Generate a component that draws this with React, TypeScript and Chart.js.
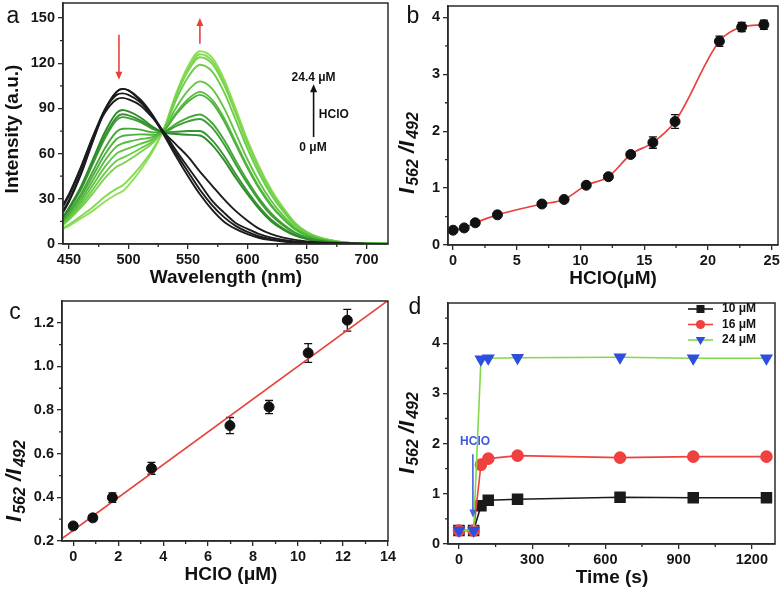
import React, { useEffect, useRef } from "react";
import { Chart, registerables } from "chart.js";
Chart.register(...registerables);

const FONT = "'Liberation Sans', Arial, sans-serif";
const AXIS = "#2b2b2b";
const CW = 784;
const CH = 590;

// ---------- Panel a : emission spectra ----------
const wavelengths = [445, 450, 460, 470, 480, 490, 495, 500, 510, 520, 530, 540, 550, 560, 570, 580, 590, 600, 610, 620, 630, 640, 650, 660, 680, 700, 720];
const blackSpectra = [
  [21, 28, 46, 68, 88, 101, 103, 102, 95, 85, 72, 58, 45, 33, 23, 15, 10, 6.5, 4, 2.6, 1.6, 1, 0.6, 0.4, 0.2, 0.1, 0],
  [22, 29, 47, 69, 89, 101, 103, 102, 96, 86, 73, 60, 48, 36, 26, 18, 12, 8, 5, 3.2, 2, 1.3, 0.8, 0.5, 0.2, 0.1, 0],
  [25, 32, 50, 71, 89, 99, 100, 99, 94, 85, 74, 62, 51, 40, 29, 21, 14, 10, 6.5, 4.2, 2.7, 1.7, 1.1, 0.7, 0.3, 0.1, 0],
  [26, 33, 51, 71, 87, 96, 97, 96, 92, 84, 74, 66, 58, 48, 39, 30, 22, 15.5, 10, 6.5, 4.2, 2.7, 1.7, 1.1, 0.4, 0.1, 0],
];
const greenSpectra = [
  [18, 24, 38, 56, 74, 87, 89, 88, 84, 78, 74, 73, 72.5, 72, 66, 56, 44, 33, 23, 15, 9.5, 5.5, 3.2, 1.8, 0.5, 0.15, 0.05],
  [17.6, 23.4, 36.9, 54.2, 71.5, 84.1, 86.1, 85.4, 82.1, 77.1, 74.2, 74.5, 75, 75, 69.1, 58.9, 46.5, 34.9, 24.5, 16.1, 10.3, 6, 3.5, 1.9, 0.5, 0.16, 0.06],
  [17.3, 22.9, 36.1, 53, 69.9, 82.2, 84.2, 83.6, 80.9, 76.5, 74.6, 78.3, 81.4, 83, 77.4, 66.6, 53, 40.1, 28.5, 19.1, 12.3, 7.2, 4.1, 2.3, 0.6, 0.2, 0.08],
  [16.1, 21.2, 33.1, 48.1, 63.3, 74.5, 76.5, 76.6, 75.9, 74.1, 74.8, 79.8, 83.9, 86, 80.5, 69.5, 55.5, 42, 30, 20.3, 13.1, 7.6, 4.4, 2.5, 0.7, 0.21, 0.09],
  [15.4, 20.1, 31.3, 45.1, 59.2, 69.7, 71.7, 72.3, 72.8, 72.5, 75.4, 86, 94.4, 99, 94, 82, 66.2, 50.4, 36.5, 25.1, 16.5, 9.6, 5.5, 3.1, 0.8, 0.27, 0.12],
  [14.7, 19.1, 29.4, 42, 55.1, 64.8, 66.8, 67.9, 69.6, 71, 75.6, 87, 96.1, 101, 96, 84, 67.8, 51.6, 37.5, 25.9, 17, 9.9, 5.7, 3.2, 0.9, 0.28, 0.13],
  [14, 18, 27.5, 39, 51, 60, 62, 63.5, 66.5, 69.5, 75.9, 90.4, 101.8, 108, 103.3, 90.7, 73.6, 56.1, 41, 28.5, 18.8, 11, 6.3, 3.5, 0.95, 0.31, 0.15],
  [13.3, 16.9, 25.6, 36, 46.9, 55.2, 57.2, 59.1, 63.4, 68, 76.5, 95.7, 110.7, 119, 114.7, 101.3, 82.6, 63.2, 46.5, 32.6, 21.7, 12.6, 7.2, 4.1, 1.1, 0.36, 0.18],
  [12.7, 16.1, 24.1, 33.5, 43.6, 51.3, 53.3, 55.6, 60.9, 66.8, 76.8, 98.1, 114.8, 124, 119.9, 106.2, 86.7, 66.4, 49, 34.5, 23, 13.4, 7.7, 4.3, 1.2, 0.38, 0.19],
  [10.6, 12.9, 18.5, 24.4, 31.3, 36.8, 38.8, 42.5, 51.5, 62.2, 76.9, 99, 116.4, 126, 121.9, 108.1, 88.3, 67.7, 50, 35.2, 23.5, 13.7, 7.8, 4.4, 1.2, 0.39, 0.2],
  [10, 12, 17, 22, 28, 33, 35, 39, 49, 61, 77, 100, 118, 128, 124, 110, 90, 69, 51, 36, 24, 14, 8, 4.5, 1.2, 0.4, 0.2],
];
const blackColor = "#1c1c1c";
const greenColors = ["#2f8a2a", "#36952f", "#3c9e33", "#45a838", "#4fb23c", "#58bb40", "#62c444", "#6dcd49", "#78d44d", "#84da52", "#8fdf58"];
const aXTicks = [450, 500, 550, 600, 650, 700];
const aXMinor = [475, 525, 575, 625, 675];
const aYTicks = [0, 30, 60, 90, 120, 150];
const aYMinor = [15, 45, 75, 105, 135];

// ---------- Panel b : ratio vs HClO ----------
const hclo = [0, 0.87, 1.74, 3.48, 6.97, 8.71, 10.45, 12.19, 13.94, 15.68, 17.42, 20.9, 22.65, 24.39];
const ratio = [0.26, 0.3, 0.39, 0.53, 0.72, 0.8, 1.05, 1.2, 1.59, 1.8, 2.17, 3.58, 3.83, 3.87];
const ratioErr = [0.02, 0.02, 0.02, 0.03, 0.03, 0.03, 0.04, 0.04, 0.04, 0.1, 0.12, 0.09, 0.08, 0.08];
const bXTicks = [0, 5, 10, 15, 20, 25];
const bXMinor = [2.5, 7.5, 12.5, 17.5, 22.5];
const bYTicks = [0, 1, 2, 3, 4];
const bYMinor = [0.5, 1.5, 2.5, 3.5];

// ---------- Panel c : linear range ----------
const hcloLow = [0, 0.87, 1.74, 3.48, 6.97, 8.71, 10.45, 12.19];
const ratioLow = [0.269, 0.306, 0.399, 0.533, 0.729, 0.814, 1.062, 1.212];
const ratioLowErr = [0.012, 0.012, 0.022, 0.027, 0.037, 0.03, 0.043, 0.05];
const fitX = [-0.5, 14];
const fitY = [0.211, 1.302];
const cXTicks = [0, 2, 4, 6, 8, 10, 12, 14];
const cXMinor = [1, 3, 5, 7, 9, 11, 13];
const cYTicks = [0.2, 0.4, 0.6, 0.8, 1.0, 1.2];
const cYMinor = [0.3, 0.5, 0.7, 0.9, 1.1];

// ---------- Panel d : time course ----------
const timeS = [0, 60, 90, 120, 240, 660, 960, 1260];
const d10 = [0.27, 0.27, 0.76, 0.87, 0.89, 0.93, 0.92, 0.92];
const d16 = [0.27, 0.27, 1.58, 1.7, 1.76, 1.72, 1.74, 1.74];
const d24 = [0.27, 0.27, 3.68, 3.7, 3.71, 3.72, 3.7, 3.7];
const dLabels = ["10 μM", "16 μM", "24 μM"];
const dXTicks = [0, 300, 600, 900, 1200];
const dXMinor = [150, 450, 750, 1050];
const dYTicks = [0, 1, 2, 3, 4];
const dYMinor = [0.5, 1.5, 2.5, 3.5, 4.5];

const pts = (xs: number[], ys: number[]) => xs.map((x, i) => ({ x, y: ys[i] }));

function linAxis(min: number, max: number, ticks: number[], fmt: (v: number) => string, isX: boolean) {
  return {
    type: "linear",
    position: isX ? "bottom" : "left",
    min,
    max,
    afterBuildTicks: (s: any) => {
      s.ticks = ticks.map((v) => ({ value: v }));
    },
    afterFit: (s: any) => {
      if (isX) s.height = 30;
      else s.width = 40;
      s.paddingLeft = 0;
      s.paddingRight = 0;
      s.paddingTop = 0;
      s.paddingBottom = 0;
    },
    ticks: {
      autoSkip: false,
      maxRotation: 0,
      padding: isX ? 2 : 3,
      color: "#161616",
      font: { family: FONT, size: 14.5, weight: "bold" },
      callback: (v: any) => fmt(Number(v)),
    },
    grid: { drawOnChartArea: false, drawTicks: true, tickLength: 5, color: AXIS, lineWidth: 1.3 },
    border: { display: true, color: AXIS, width: 1.5 },
  };
}

function drawText(ctx: CanvasRenderingContext2D, text: string, x: number, y: number, font: string, color: string, rotate = false, align: CanvasTextAlign = "center") {
  ctx.save();
  ctx.translate(x, y);
  if (rotate) ctx.rotate(-Math.PI / 2);
  ctx.font = font;
  ctx.fillStyle = color;
  ctx.textAlign = align;
  ctx.textBaseline = "middle";
  ctx.fillText(text, 0, 0);
  ctx.restore();
}

function drawRatioTitle(ctx: CanvasRenderingContext2D, cx: number, cy: number) {
  const parts = [
    { t: "I", s: 22, sub: false, gap: 2 },
    { t: "562", s: 16, sub: true, gap: 0 },
    { t: " /", s: 22, sub: false, gap: 0 },
    { t: "I", s: 22, sub: false, gap: 2 },
    { t: "492", s: 16, sub: true, gap: 0 },
  ];
  ctx.save();
  ctx.translate(cx, cy);
  ctx.rotate(-Math.PI / 2);
  const widths = parts.map((p) => {
    ctx.font = `italic bold ${p.s}px ${FONT}`;
    return ctx.measureText(p.t).width + p.gap;
  });
  const total = widths.reduce((a, b) => a + b, 0);
  let x = -total / 2;
  ctx.fillStyle = "#111";
  ctx.textAlign = "left";
  ctx.textBaseline = "alphabetic";
  parts.forEach((p, i) => {
    ctx.font = `italic bold ${p.s}px ${FONT}`;
    ctx.fillText(p.t, x, p.sub ? 11 : 7);
    x += widths[i];
  });
  ctx.restore();
}

function drawArrow(ctx: CanvasRenderingContext2D, x: number, y1: number, y2: number, color: string) {
  const dir = y2 > y1 ? 1 : -1;
  ctx.save();
  ctx.strokeStyle = color;
  ctx.fillStyle = color;
  ctx.lineWidth = 1.6;
  ctx.beginPath();
  ctx.moveTo(x, y1);
  ctx.lineTo(x, y2 - dir * 6);
  ctx.stroke();
  ctx.beginPath();
  ctx.moveTo(x, y2);
  ctx.lineTo(x - 3.5, y2 - dir * 8);
  ctx.lineTo(x + 3.5, y2 - dir * 8);
  ctx.closePath();
  ctx.fill();
  ctx.restore();
}

function drawMarker(ctx: CanvasRenderingContext2D, kind: string, x: number, y: number, color: string) {
  ctx.save();
  ctx.fillStyle = color;
  ctx.beginPath();
  if (kind === "rect") {
    ctx.rect(x - 4, y - 4, 8, 8);
  } else if (kind === "circle") {
    ctx.arc(x, y, 4.6, 0, Math.PI * 2);
  } else {
    ctx.moveTo(x - 4.8, y - 3);
    ctx.lineTo(x + 4.8, y - 3);
    ctx.lineTo(x, y + 5);
    ctx.closePath();
  }
  ctx.fill();
  ctx.restore();
}

function makeDecor(cfg: any) {
  return {
    id: "decor_" + cfg.key,
    beforeDatasetsDraw(chart: any) {
      if (!cfg.errors) return;
      const { ctx, scales } = chart;
      const data = chart.data.datasets[cfg.errors.dataset].data;
      ctx.save();
      ctx.strokeStyle = "#111";
      ctx.lineWidth = 1.3;
      data.forEach((p: any, i: number) => {
        const e = cfg.errors.values[i];
        const px = scales.x.getPixelForValue(p.x);
        const y1 = scales.y.getPixelForValue(p.y - e);
        const y2 = scales.y.getPixelForValue(p.y + e);
        ctx.beginPath();
        ctx.moveTo(px, y1);
        ctx.lineTo(px, y2);
        ctx.moveTo(px - 4, y1);
        ctx.lineTo(px + 4, y1);
        ctx.moveTo(px - 4, y2);
        ctx.lineTo(px + 4, y2);
        ctx.stroke();
      });
      ctx.restore();
    },
    afterDraw(chart: any) {
      const { ctx, chartArea: ca, scales } = chart;
      const xs = scales.x;
      const ys = scales.y;
      ctx.save();
      ctx.strokeStyle = AXIS;
      ctx.lineWidth = 1.3;
      ctx.beginPath();
      (cfg.minorX || []).forEach((v: number) => {
        const px = xs.getPixelForValue(v);
        ctx.moveTo(px, ca.bottom);
        ctx.lineTo(px, ca.bottom + 3);
      });
      (cfg.minorY || []).forEach((v: number) => {
        const py = ys.getPixelForValue(v);
        ctx.moveTo(ca.left, py);
        ctx.lineTo(ca.left - 3, py);
      });
      ctx.stroke();
      ctx.lineWidth = 1.5;
      ctx.strokeRect(ca.left, ca.top, ca.right - ca.left, ca.bottom - ca.top);
      ctx.restore();

      // axis titles and panel letter
      drawText(ctx, cfg.xTitle.text, cfg.xTitle.x, ca.bottom + 34, `bold 19px ${FONT}`, "#111");
      if (cfg.yTitle.rich) drawRatioTitle(ctx, cfg.yTitle.x, cfg.yTitle.y);
      else drawText(ctx, cfg.yTitle.text, cfg.yTitle.x, cfg.yTitle.y, `bold 19px ${FONT}`, "#111", true);
      drawText(ctx, cfg.letter.text, cfg.letter.x, cfg.letter.y, `23px ${FONT}`, "#111");

      (cfg.arrows || []).forEach((a: any) => {
        drawArrow(ctx, xs.getPixelForValue(a.x), ys.getPixelForValue(a.y1), ys.getPixelForValue(a.y2), a.color);
      });
      (cfg.notes || []).forEach((n: any) => {
        drawText(ctx, n.text, xs.getPixelForValue(n.x), ys.getPixelForValue(n.y), `bold 12px ${FONT}`, n.color);
      });
      if (cfg.legend) {
        const L = cfg.legend;
        L.items.forEach((it: any, i: number) => {
          const y = L.y + i * L.dy;
          ctx.save();
          ctx.strokeStyle = it.line;
          ctx.lineWidth = 1.6;
          ctx.beginPath();
          ctx.moveTo(L.x, y);
          ctx.lineTo(L.x + 25, y);
          ctx.stroke();
          ctx.restore();
          drawMarker(ctx, it.marker, L.x + 12.5, y, it.markerColor);
          drawText(ctx, it.label, L.x + 34, y, `bold 12px ${FONT}`, "#111", false, "left");
        });
      }
    },
  };
}

function baseOptions(padding: any, x: any, y: any) {
  return {
    responsive: false,
    animation: false,
    events: [],
    layout: { padding },
    scales: { x, y },
    plugins: { legend: { display: false }, tooltip: { enabled: false } },
  };
}

const intFmt = (v: number) => String(v);

function configA() {
  const datasets: any[] = [];
  blackSpectra.forEach((s) =>
    datasets.push({ data: pts(wavelengths, s), borderColor: blackColor, borderWidth: 1.9, pointRadius: 0, cubicInterpolationMode: "monotone", fill: false })
  );
  greenSpectra.forEach((s, i) =>
    datasets.push({ data: pts(wavelengths, s), borderColor: greenColors[i], borderWidth: 1.9, pointRadius: 0, cubicInterpolationMode: "monotone", fill: false })
  );
  return {
    type: "line",
    data: { datasets },
    options: baseOptions({ left: 23, right: CW - 388, top: 3, bottom: CH - 244 - 30 }, linAxis(445, 718, aXTicks, intFmt, true), linAxis(0, 160, aYTicks, intFmt, false)),
    plugins: [
      makeDecor({
        key: "a",
        minorX: aXMinor,
        minorY: aYMinor,
        xTitle: { text: "Wavelength (nm)", x: 226 },
        yTitle: { text: "Intensity (a.u.)", x: 13, y: 129 },
        letter: { text: "a", x: 13, y: 17 },
        arrows: [
          { x: 492, y1: 139, y2: 109, color: "#e8413c" },
          { x: 560, y1: 133, y2: 150, color: "#e8413c" },
          { x: 655.5, y1: 71, y2: 106, color: "#111" },
        ],
        notes: [
          { text: "24.4 μM", x: 655.5, y: 110.5, color: "#111" },
          { text: "HClO", x: 672.5, y: 86, color: "#111" },
          { text: "0 μM", x: 655, y: 64, color: "#111" },
        ],
      }),
    ],
  };
}

function configB() {
  return {
    type: "line",
    data: {
      datasets: [
        { data: pts(hclo, ratio), showLine: false, pointRadius: 5, pointBackgroundColor: "#111", pointBorderColor: "#111", borderColor: "#111" },
        { data: pts(hclo, ratio), borderColor: "#e8413c", borderWidth: 1.7, pointRadius: 0, cubicInterpolationMode: "monotone", fill: false },
      ],
    },
    options: baseOptions({ left: 408, right: CW - 780, top: 4, bottom: CH - 245 - 30 }, linAxis(-0.4, 25.5, bXTicks, intFmt, true), linAxis(0, 4.2, bYTicks, intFmt, false)),
    plugins: [
      makeDecor({
        key: "b",
        minorX: bXMinor,
        minorY: bYMinor,
        errors: { dataset: 0, values: ratioErr },
        xTitle: { text: "HClO(μM)", x: 613 },
        yTitle: { rich: true, x: 407, y: 153 },
        letter: { text: "b", x: 413, y: 17 },
      }),
    ],
  };
}

function configC() {
  return {
    type: "line",
    data: {
      datasets: [
        { data: pts(hcloLow, ratioLow), showLine: false, pointRadius: 5, pointBackgroundColor: "#111", pointBorderColor: "#111", borderColor: "#111" },
        { data: pts(fitX, fitY), borderColor: "#e8413c", borderWidth: 1.7, pointRadius: 0, fill: false },
      ],
    },
    options: baseOptions({ left: 22, right: CW - 388, top: 301, bottom: CH - 541 - 30 }, linAxis(-0.5, 14, cXTicks, intFmt, true), linAxis(0.2, 1.3, cYTicks, (v) => v.toFixed(1), false)),
    plugins: [
      makeDecor({
        key: "c",
        minorX: cXMinor,
        minorY: cYMinor,
        errors: { dataset: 0, values: ratioLowErr },
        xTitle: { text: "HClO (μM)", x: 231 },
        yTitle: { rich: true, x: 14, y: 481 },
        letter: { text: "c", x: 15, y: 313 },
      }),
    ],
  };
}

function configD() {
  const common = { borderWidth: 1.6, tension: 0, fill: false };
  return {
    type: "line",
    data: {
      datasets: [
        { ...common, data: pts(timeS, d24), borderColor: "#82d84a", pointStyle: "triangle", pointRotation: 180, pointRadius: 6, pointBackgroundColor: "#2d4fe0", pointBorderColor: "#2d4fe0", order: 0 },
        { ...common, data: pts(timeS, d16), borderColor: "#f04040", pointStyle: "circle", pointRadius: 5.5, pointBackgroundColor: "#f04040", pointBorderColor: "#f04040", order: 1 },
        { ...common, data: pts(timeS, d10), borderColor: "#1a1a1a", pointStyle: "rect", pointRadius: 7, pointBackgroundColor: "#1a1a1a", pointBorderColor: "#1a1a1a", order: 2 },
      ],
    },
    options: baseOptions({ left: 408, right: CW - 775, top: 303, bottom: CH - 544 - 30 }, linAxis(-45, 1295, dXTicks, intFmt, true), linAxis(0, 4.8, dYTicks, intFmt, false)),
    plugins: [
      makeDecor({
        key: "d",
        minorX: dXMinor,
        minorY: dYMinor,
        xTitle: { text: "Time (s)", x: 612 },
        yTitle: { rich: true, x: 407, y: 433 },
        letter: { text: "d", x: 415, y: 308 },
        arrows: [{ x: 57, y1: 1.79, y2: 0.53, color: "#4466dd" }],
        notes: [{ text: "HClO", x: 66, y: 2.03, color: "#3b5bdb" }],
        legend: {
          x: 688,
          y: 309,
          dy: 15.5,
          items: [
            { label: dLabels[0], line: "#1a1a1a", marker: "rect", markerColor: "#1a1a1a" },
            { label: dLabels[1], line: "#f04040", marker: "circle", markerColor: "#f04040" },
            { label: dLabels[2], line: "#82d84a", marker: "triangle", markerColor: "#2d4fe0" },
          ],
        },
      }),
    ],
  };
}

export default function App() {
  const refs = [useRef<HTMLCanvasElement>(null), useRef<HTMLCanvasElement>(null), useRef<HTMLCanvasElement>(null), useRef<HTMLCanvasElement>(null)];
  useEffect(() => {
    const builders = [configA, configB, configC, configD];
    const charts = builders.map((b, i) => new Chart(refs[i].current as HTMLCanvasElement, b() as any));
    return () => charts.forEach((c) => c.destroy());
  }, []);
  return (
    <div style={{ position: "fixed", left: 0, top: 0, width: CW, height: CH, background: "#fff" }}>
      {refs.map((r, i) => (
        <canvas key={i} ref={r} width={CW} height={CH} style={{ position: "absolute", left: 0, top: 0, width: CW, height: CH }} />
      ))}
    </div>
  );
}
